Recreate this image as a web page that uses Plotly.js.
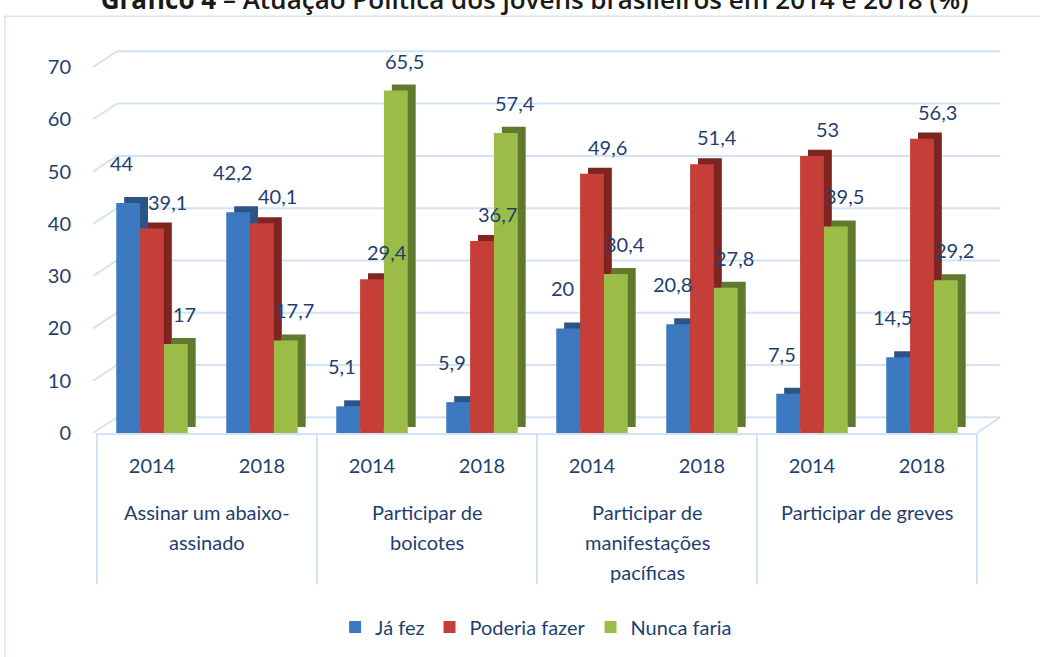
<!DOCTYPE html>
<html>
<head>
<meta charset="utf-8">
<script src="https://cdn.plot.ly/plotly-3.0.1.min.js"></script>
<style>html,body{margin:0;padding:0;background:#fff;}#chart{width:1040px;height:657px;}</style>
</head>
<body>
<div id="chart"></div>
<script>
// ---- data ----
const groups = ["Assinar um abaixo-<br>assinado", "Participar de<br>boicotes", "Participar de<br>manifestações<br>pacíficas", "Participar de greves"];
const years = ["2014", "2018"];
const seriesNames = ["Já fez", "Poderia fazer", "Nunca faria"];
const jaFez   = [44, 42.2, 5.1, 5.9, 20, 20.8, 7.5, 14.5];
const poderia = [39.1, 40.1, 29.4, 36.7, 49.6, 51.4, 53, 56.3];
const nunca   = [17, 17.7, 65.5, 57.4, 30.4, 27.8, 39.5, 29.2];
const yTicks  = [0, 10, 20, 30, 40, 50, 60, 70];

// ---- build ----
const xIdx = [], xYear = [];
groups.forEach((g, gi) => years.forEach((y, yi) => { xIdx.push(gi * years.length + yi); xYear.push(y); }));

const values = [jaFez, poderia, nunca];
const frontColors = ["#3C79C0", "#C53E37", "#9BBD47"];
const sideColors  = ["#2D5486", "#7E2521", "#5F7A2E"];
const textColor = "#1F3F6F";
const gridColor = "#D3E3F3";
const font = "Lato, 'Open Sans', sans-serif";

const bw = 0.2167, start = -0.325;
const depthX = 0.072, depthY = 1.15;
const shiftX = [-6, 15, 9], shiftY = [40, 27, 30];

const xr = [-0.5, xIdx.length - 0.5];
const yr = [0, 70];
const px = v => (v - xr[0]) / (xr[1] - xr[0]);   // data x -> paper
const py = v => (v - yr[0]) / (yr[1] - yr[0]);   // data y -> paper
const plotW = 880, plotH = 367;
const wallDX = 20 / plotW, wallDY = 3.0;         // back wall offset

const traces = [];
const annotations = [];
values.forEach((vals, i) => {
  traces.push({
    type: "bar", x: xIdx, y: vals, base: depthY,
    offset: start + i * bw + depthX, width: bw,
    marker: { color: sideColors[i] }, showlegend: false, hoverinfo: "skip"
  });
  traces.push({
    type: "bar", x: xIdx, y: vals, name: seriesNames[i],
    offset: start + i * bw, width: bw,
    marker: { color: frontColors[i] }
  });
  vals.forEach((v, j) => {
    annotations.push({
      x: xIdx[j] + start + i * bw + bw / 2, y: v, xref: "x", yref: "y",
      text: String(v).replace(".", ","), showarrow: false,
      yanchor: "middle", xanchor: "center",
      xshift: shiftX[i], yshift: shiftY[i],
      font: { family: font, size: 20, color: textColor }
    });
  });
});

// group labels (one annotation per line)
groups.forEach((g, gi) => {
  g.split("<br>").forEach((line, k) => {
    annotations.push({
      x: gi * years.length + (years.length - 1) / 2, xref: "x",
      y: -(79 + 30 * k) / plotH, yref: "paper",
      text: line, showarrow: false, yanchor: "middle", xanchor: "center",
      font: { family: font, size: 20, color: textColor }
    });
  });
});

const shapes = [];
// back-wall gridlines with perspective connectors
yTicks.forEach(t => {
  shapes.push({ type: "line", xref: "paper", yref: "paper", layer: "below",
    x0: wallDX, x1: (1000 - 97) / plotW, y0: py(t + wallDY), y1: py(t + wallDY),
    line: { color: gridColor, width: 2 } });
  shapes.push({ type: "line", xref: "paper", yref: "paper", layer: "below",
    x0: -4 / plotW, x1: wallDX, y0: py(t), y1: py(t + wallDY),
    line: { color: gridColor, width: 2 } });
});
// floor right edge
shapes.push({ type: "line", xref: "paper", yref: "paper", layer: "below",
  x0: 1, x1: 1 + 23 / plotW, y0: py(0), y1: py(wallDY),
  line: { color: gridColor, width: 2 } });
// group dividers
for (let gi = 0; gi <= groups.length; gi++) {
  const xv = gi * years.length - 0.5;
  shapes.push({ type: "line", xref: "paper", yref: "paper",
    x0: px(xv), x1: px(xv), y0: 0, y1: -152 / plotH,
    line: { color: gridColor, width: 2 } });
}
// outer frame
shapes.push({
  type: "rect", xref: "paper", yref: "paper",
  x0: -92 / plotW, x1: 1.08, y0: -0.62, y1: (434 - 16) / plotH,
  line: { color: "#D6E4F2", width: 1.5 }, fillcolor: "rgba(0,0,0,0)", layer: "below"
});

const layout = {
  width: 1040, height: 657,
  margin: { l: 97, r: 63, t: 67, b: 223 },
  paper_bgcolor: "#fff", plot_bgcolor: "rgba(0,0,0,0)",
  barmode: "overlay",
  title: {
    text: "<b>Gráfico 4</b> – Atuação Política dos jovens brasileiros em 2014 e 2018 (%)",
    font: { family: "'Open Sans', sans-serif", size: 26, color: "#1a1a1a", weight: 600 },
    x: 0.514, xanchor: "center", xref: "container",
    y: 1.0, yanchor: "middle", yref: "container"
  },
  xaxis: {
    range: xr, tickvals: xIdx, ticktext: xYear,
    showline: true, linecolor: gridColor, linewidth: 2,
    tickfont: { family: font, size: 20, color: textColor },
    ticks: "", showgrid: false, zeroline: false, ticklabelstandoff: 14
  },
  yaxis: {
    range: yr, tickvals: yTicks, ticktext: yTicks.map(String),
    showgrid: false, zeroline: false, showline: false, ticks: "",
    ticklabelstandoff: 25,
    tickfont: { family: font, size: 20, color: textColor }
  },
  legend: {
    orientation: "h", x: 0.499, xanchor: "center", y: -0.526, yanchor: "middle",
    font: { family: font, size: 20, color: textColor },
    itemwidth: 30, traceorder: "normal"
  },
  annotations: annotations,
  shapes: shapes
};

Plotly.newPlot("chart", traces, layout, { displayModeBar: false, staticPlot: true });
</script>
</body>
</html>
